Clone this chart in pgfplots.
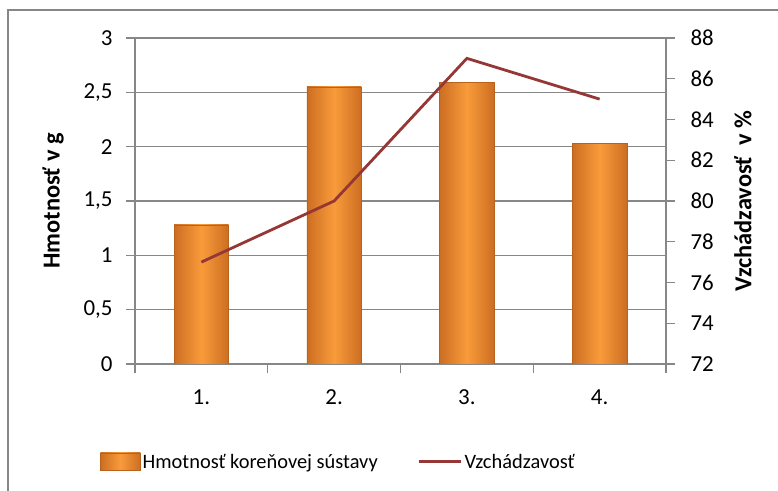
\documentclass[border=0pt]{standalone}
\usepackage{pgfplots}
\pgfplotsset{compat=1.18}
\usepackage{fontspec}
\setmainfont{Carlito}
\definecolor{gridg}{HTML}{878787}
\definecolor{barmid}{HTML}{F99B3A}
\definecolor{baredge}{HTML}{CC6E22}
\definecolor{barline}{HTML}{B8621E}
\definecolor{linec}{HTML}{953735}
\pgfplotsset{barsty/.style={ybar, bar width=0.41, bar shift=0pt, draw=barline, line width=0.6bp,
  left color=baredge, right color=baredge, middle color=barmid}}
\begin{document}
\begin{tikzpicture}[font=\fontsize{23}{27}\selectfont]
\useasboundingbox (0,0) rectangle (778bp,491bp);
\draw[gridg, line width=1.5bp] (8bp,0) -- (8bp,481bp) -- (778bp,481bp);
\begin{axis}[
  at={(135bp,127bp)}, anchor=south west,
  scale only axis, width=531bp, height=326bp,
  xmin=0.5, xmax=4.5, ymin=0, ymax=3,
  axis y line*=left, axis x line*=bottom,
  axis line style={gridg, line width=1.3bp, -},
  xtick={0.5,1.5,2.5,3.5,4.5}, xticklabels={},
  extra x ticks={1,2,3,4}, extra x tick labels={1.,2.,3.,4.},
  extra x tick style={major tick length=0pt, grid=none},
  xticklabel style={yshift=-22bp},
  ytick={0,0.5,...,3},
  ymajorgrids, grid style={gridg, line width=1.3bp},
  tick align=outside, major tick length=9bp,
  tick style={gridg, line width=1.3bp},
  yticklabel style={xshift=-10bp},
  /pgf/number format/.cd, use comma, assume math mode=true,
  /pgfplots/.cd,
  ylabel={\fontsize{24.5}{28}\selectfont\bfseries Hmotnosť v g},
  every axis y label/.style={at={(axis description cs:-0.154,0.5)}, rotate=90, anchor=center},
  legend style={draw=none, fill=none, at={(0.383,-0.30)}, anchor=center, legend columns=2,
    font=\fontsize{20.5}{24}\selectfont,
    /tikz/every even column/.append style={column sep=38bp}},
  legend cell align=left,
]
\addplot[barsty,
  legend image code/.code={\fill[left color=baredge, right color=baredge, middle color=barmid] (0bp,-8bp) rectangle (40bp,9bp);}]
  coordinates {(1,1.28)};
\addlegendentry{Hmotnosť koreňovej sústavy}
\addplot[barsty, forget plot] coordinates {(2,2.55)};
\addplot[barsty, forget plot] coordinates {(3,2.59)};
\addplot[barsty, forget plot] coordinates {(4,2.03)};
\addlegendimage{linec, line width=2.8bp, legend image code/.code={\draw[linec, line width=2.8bp] (0bp,0bp) -- (42bp,0bp);}}
\addlegendentry{Vzchádzavosť}
\end{axis}
\begin{axis}[
  at={(135bp,127bp)}, anchor=south west,
  scale only axis, width=531bp, height=326bp,
  xmin=0.5, xmax=4.5, ymin=72, ymax=88,
  ytick={72,74,...,88},
  axis y line*=right, axis x line=none,
  axis line style={gridg, line width=1.3bp, -},
  tick align=outside, major tick length=9bp,
  tick style={gridg, line width=1.3bp},
  yticklabel style={xshift=12bp},
  /pgf/number format/.cd, assume math mode=true,
  /pgfplots/.cd,
  ylabel={\fontsize{24.5}{28}\selectfont\bfseries Vzchádzavosť\ \ v \%},
  every axis y label/.style={at={(axis description cs:1.145,0.5)}, rotate=90, anchor=center},
]
\addplot[linec, line width=2.8bp] coordinates {(1,77) (2,80) (3,87) (4,85)};
\end{axis}
\end{tikzpicture}
\end{document}
